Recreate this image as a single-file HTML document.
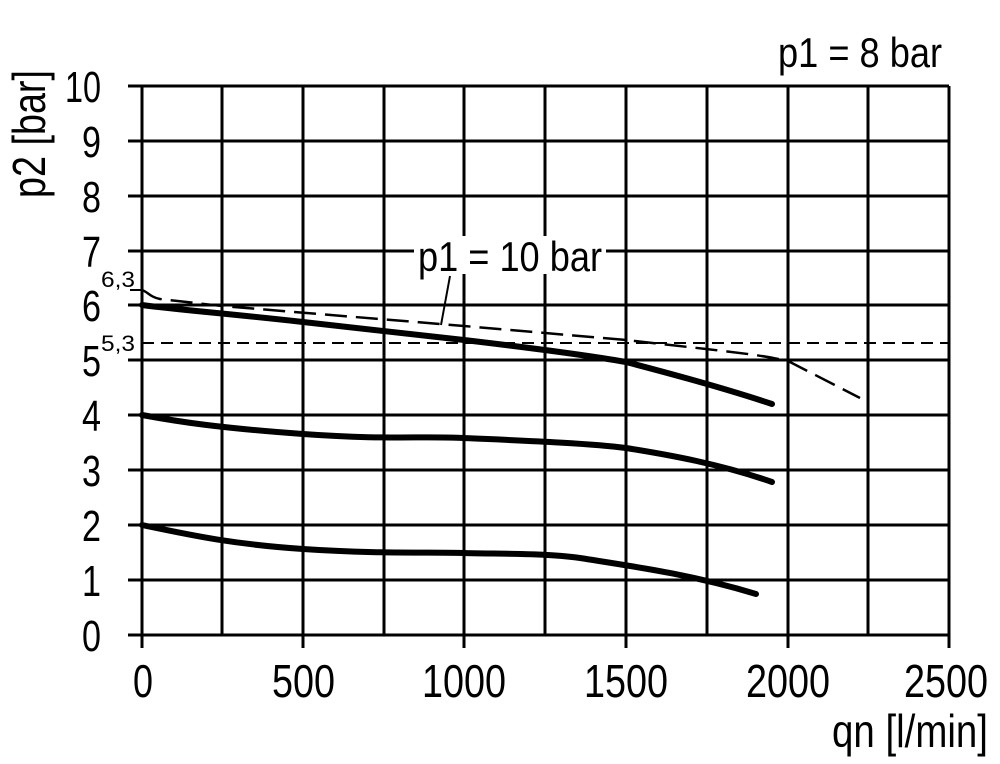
<!DOCTYPE html>
<html><head><style>body{margin:0;background:#fff}svg{display:block}text{font-family:"Liberation Sans",sans-serif;fill:#000}</style></head>
<body>
<svg width="1000" height="764" viewBox="0 0 1000 764">
<g stroke="#000" stroke-width="3" fill="none">
<line x1="128" y1="86" x2="949" y2="86"/><line x1="128" y1="141" x2="949" y2="141"/><line x1="128" y1="196" x2="949" y2="196"/><line x1="128" y1="251" x2="949" y2="251"/><line x1="128" y1="305" x2="949" y2="305"/><line x1="128" y1="360" x2="949" y2="360"/><line x1="128" y1="415" x2="949" y2="415"/><line x1="128" y1="470" x2="949" y2="470"/><line x1="128" y1="525" x2="949" y2="525"/><line x1="128" y1="580" x2="949" y2="580"/><line x1="128" y1="635" x2="949" y2="635"/>
<line x1="130" y1="290" x2="142" y2="290" stroke-width="2"/>
<line x1="142" y1="86" x2="142" y2="648"/><line x1="222" y1="86" x2="222" y2="635"/><line x1="303" y1="86" x2="303" y2="648"/><line x1="384" y1="86" x2="384" y2="635"/><line x1="464" y1="86" x2="464" y2="648"/><line x1="545" y1="86" x2="545" y2="635"/><line x1="626" y1="86" x2="626" y2="648"/><line x1="707" y1="86" x2="707" y2="635"/><line x1="788" y1="86" x2="788" y2="648"/><line x1="868" y1="86" x2="868" y2="635"/><line x1="949" y1="86" x2="949" y2="648"/>
<line x1="142" y1="343" x2="949" y2="343" stroke-width="2" stroke-dasharray="12,7"/>
<path d="M142,290 C148,292 150,297 160,299 L222,306 L464,326 L626,340 L706,349 C740,353 770,356 790,362 L860,398" stroke-width="2.5" stroke-dasharray="22,9"/>
<g stroke-width="6" stroke-linecap="round">
<path d="M142,305 C180,310 222,313 303,322 S430,336 464,340 S580,354 626,362 C680,376 730,390 772,404"/>
<path d="M142,415 C180,422 220,428 303,434 S420,436 464,438 S590,443 626,448 C670,455 720,464 772,482"/>
<path d="M142,525 C190,535 230,544 303,549 S430,552 464,553 S545,553 580,558 C630,566 690,574 756,594"/>
</g>
</g>
<rect x="414" y="236" width="192" height="38" fill="#fff"/>
<line x1="450" y1="276" x2="441" y2="325" stroke="#000" stroke-width="2"/>
<g font-size="44" text-anchor="end">
<text x="101" y="102" textLength="36" lengthAdjust="spacingAndGlyphs">10</text>
<text x="101" y="157" textLength="19" lengthAdjust="spacingAndGlyphs">9</text>
<text x="101" y="212" textLength="19" lengthAdjust="spacingAndGlyphs">8</text>
<text x="101" y="267" textLength="19" lengthAdjust="spacingAndGlyphs">7</text>
<text x="101" y="321" textLength="19" lengthAdjust="spacingAndGlyphs">6</text>
<text x="101" y="376" textLength="19" lengthAdjust="spacingAndGlyphs">5</text>
<text x="101" y="431" textLength="19" lengthAdjust="spacingAndGlyphs">4</text>
<text x="101" y="486" textLength="19" lengthAdjust="spacingAndGlyphs">3</text>
<text x="101" y="541" textLength="19" lengthAdjust="spacingAndGlyphs">2</text>
<text x="101" y="596" textLength="19" lengthAdjust="spacingAndGlyphs">1</text>
<text x="101" y="651" textLength="19" lengthAdjust="spacingAndGlyphs">0</text>
</g>
<text x="101" y="287" font-size="22" textLength="34" lengthAdjust="spacingAndGlyphs">6,3</text>
<text x="101" y="351" font-size="22" textLength="34" lengthAdjust="spacingAndGlyphs">5,3</text>
<g font-size="46">
<text x="133" y="697" textLength="20" lengthAdjust="spacingAndGlyphs">0</text>
<text x="272" y="697" textLength="63" lengthAdjust="spacingAndGlyphs">500</text>
<text x="422" y="697" textLength="84" lengthAdjust="spacingAndGlyphs">1000</text>
<text x="584" y="697" textLength="84" lengthAdjust="spacingAndGlyphs">1500</text>
<text x="746" y="697" textLength="84" lengthAdjust="spacingAndGlyphs">2000</text>
<text x="904" y="697" textLength="84" lengthAdjust="spacingAndGlyphs">2500</text>
<text x="832" y="747" textLength="156" lengthAdjust="spacingAndGlyphs">qn [l/min]</text>
</g>
<text x="778" y="67" font-size="42" textLength="164" lengthAdjust="spacingAndGlyphs">p1 = 8 bar</text>
<text x="418" y="271" font-size="42" textLength="184" lengthAdjust="spacingAndGlyphs">p1 = 10 bar</text>
<text transform="translate(45,198) rotate(-90)" font-size="46" textLength="128" lengthAdjust="spacingAndGlyphs">p2 [bar]</text>
</svg>
</body></html>
